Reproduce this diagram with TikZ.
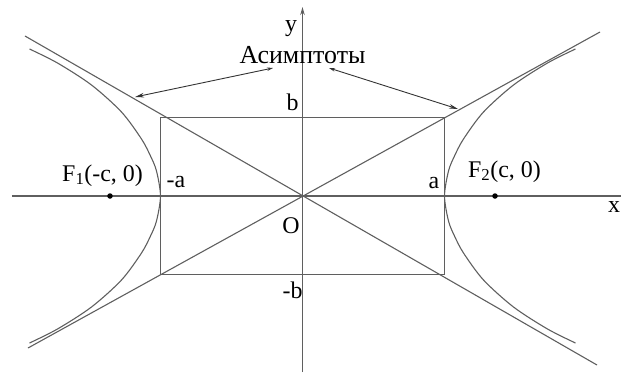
\documentclass[tikz,border=0pt]{standalone}
\usepackage{fontspec}
\setmainfont{Liberation Serif}
\usetikzlibrary{arrows.meta,positioning}

\begin{document}
\begin{tikzpicture}[x=1bp,y=1bp, line width=1.1bp]
  % Couleurs et styles
  \definecolor{gristrait}{RGB}{95,95,95}
  \tikzset{
    trait/.style={draw=gristrait},
    etiq/.style={font=\fontsize{24}{28}\selectfont, inner sep=0pt, anchor=base},
    foyer/.style={circle, fill=black, inner sep=0pt, minimum size=5.5bp}
  }
  \useasboundingbox (-302.5,-180) rectangle (318.5,196);

  % Axes
  \draw[trait] (-290.5,0) -- (330,0);
  \draw[trait, -{Stealth[length=8bp,width=4.5bp]}] (0,-176) -- (0,189);

  % Rectangle de base
  \draw[trait] (-142,-78.5) rectangle (142,78.5);

  % Asymptotes
  \coordinate (hg) at (-277.5,160);
  \coordinate (bd) at (294.5,-169);
  \coordinate (hd) at (297.5,164);
  \coordinate (bg) at (-274.5,-152);
  \draw[trait] (hg) -- (bd);
  \draw[trait] (hd) -- (bg);

  % Branches de l'hyperbole
  \foreach \s in {-1,1}
    \draw[trait, xscale=\s] plot[smooth] coordinates {(273,147) (245,133) (211,111)
      (181,84) (161,57) (152,40) (146,25) (142,0) (146,-25) (152,-40) (161,-57)
      (181,-84) (211,-111) (245,-133) (273,-147)};

  % Foyers
  \node[foyer] (f1) at (-192.5,0) {};
  \node[foyer] (f2) at (192.5,0) {};

  % Étiquettes
  \node[etiq] (y) at (-11.5,165) {y};
  \node[etiq, anchor=base east] (x) at (318,-16) {x};
  \node[etiq] (b) at (-10,86) {b};
  \node[etiq] (mb) at (-10,-102) {-b};
  \node[etiq] (o) at (-11.5,-37) {O};
  \node[etiq] (ma) at (-126.5,9) {-a};
  \node[etiq] (a) at (131.5,8) {a};
  \node[etiq] (F1) at (-200,15) {F\textsubscript{1}(-c, 0)};
  \node[etiq] (F2) at (202,19) {F\textsubscript{2}(c, 0)};
  \node[etiq, font=\fontsize{26}{30}\selectfont] (asym) at (0,133) {Асимптоты};

  % Flèches vers les asymptotes
  \coordinate (tg) at (-29.5,128);
  \coordinate (pg) at (-167.5,99);
  \coordinate (td) at (26.5,128);
  \coordinate (pd) at (155.5,87);
  \draw[draw=black!80, line width=0.9bp, {Stealth[length=6bp,width=3.5bp]}-{Stealth[length=9bp,width=4.5bp]}] (tg) -- (pg);
  \draw[draw=black!80, line width=0.9bp, {Stealth[length=6bp,width=3.5bp]}-{Stealth[length=9bp,width=4.5bp]}] (td) -- (pd);
\end{tikzpicture}
\end{document}
